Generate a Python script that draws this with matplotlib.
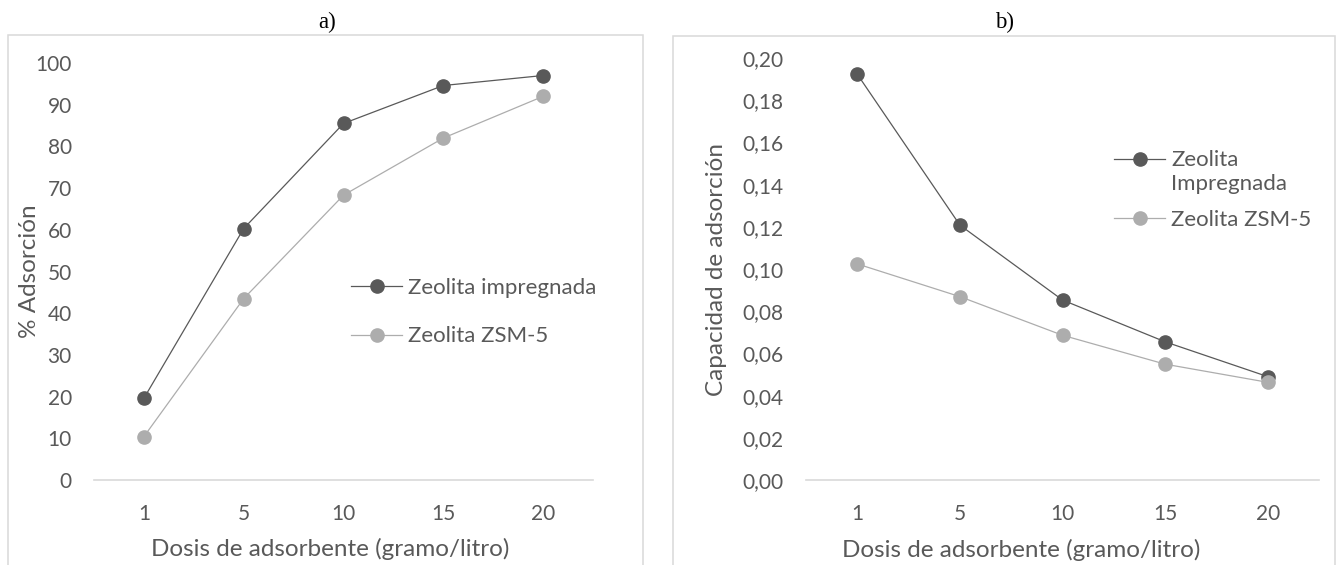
import matplotlib
matplotlib.use("Agg")
import numpy as np
import matplotlib.pyplot as plt
from matplotlib.patches import Rectangle
from matplotlib.legend_handler import HandlerLine2D

plt.rcParams['font.family'] = ['Lato', 'DejaVu Sans']

dosis = ["1", "5", "10", "15", "20"]

# a) % adsorcion
ads_impregnada = [19.6, 60.3, 85.5, 94.6, 97.0]
ads_zsm5 = [10.4, 43.5, 68.3, 82.0, 92.0]
yticks_a = [0, 10, 20, 30, 40, 50, 60, 70, 80, 90, 100]

# b) capacidad de adsorcion
cap_impregnada = [0.1923, 0.1208, 0.0853, 0.0655, 0.0490]
cap_zsm5 = [0.1024, 0.0869, 0.0686, 0.0549, 0.0463]
yticks_b = [0.00, 0.02, 0.04, 0.06, 0.08, 0.10, 0.12, 0.14, 0.16, 0.18, 0.20]
yticklabels_b = ["0,00", "0,02", "0,04", "0,06", "0,08", "0,10",
                 "0,12", "0,14", "0,16", "0,18", "0,20"]

dark = "#595959"
light = "#adadad"
txt = "#595959"
grid = "#d9d9d9"
fs_tick = 15
fs_leg = 16
fs_lab = 17.5


class ShiftedHandler(HandlerLine2D):
    # handle aligned with the first line of a two-line label
    def __init__(self, dy, **kw):
        super().__init__(**kw)
        self.dy = dy

    def create_artists(self, legend, orig_handle, xdescent, ydescent, width,
                       height, fontsize, trans):
        arts = super().create_artists(legend, orig_handle, xdescent, ydescent,
                                      width, height, fontsize, trans)
        for a in arts:
            a.set_ydata(np.asarray(a.get_ydata()) + self.dy)
        return arts


W, H = 1337, 565
fig = plt.figure(figsize=(W / 100, H / 100), dpi=100)

# panel borders
fig.add_artist(Rectangle((8 / W, -0.05), 635 / W, 1.05 - 35 / H, transform=fig.transFigure,
                         fill=False, edgecolor=grid, lw=1.1))
fig.add_artist(Rectangle((673 / W, -0.05), 662 / W, 1.05 - 36 / H, transform=fig.transFigure,
                         fill=False, edgecolor=grid, lw=1.1))

fig.text(327 / W, 1 - 22 / H, "a)", ha="center", va="center",
         family="Liberation Serif", fontsize=16.5, color="black")
fig.text(1005 / W, 1 - 22 / H, "b)", ha="center", va="center",
         family="Liberation Serif", fontsize=16.5, color="black")

ax1 = fig.add_axes([94 / W, 85 / H, 499 / W, 417 / H])
ax2 = fig.add_axes([806 / W, 85 / H, 513 / W, 422 / H])


def style(ax):
    for s in ["top", "right", "left"]:
        ax.spines[s].set_visible(False)
    ax.spines["bottom"].set_color(grid)
    ax.spines["bottom"].set_linewidth(1.2)
    ax.tick_params(length=0, labelsize=fs_tick, labelcolor=txt)
    ax.tick_params(axis="x", pad=17)
    ax.tick_params(axis="y", pad=16)
    ax.set_xlim(-0.5, 4.5)


x = range(len(dosis))

ax1.plot(x, ads_impregnada, "-o", color=dark, lw=0.9, ms=9.5, label="Zeolita impregnada", clip_on=False)
ax1.plot(x, ads_zsm5, "-o", color=light, lw=0.9, ms=9.5, label="Zeolita ZSM-5", clip_on=False)
style(ax1)
ax1.set_ylim(0, 100)
ax1.set_yticks(yticks_a)
ax1.set_xticks(list(x))
ax1.set_xticklabels(dosis)
ax1.set_ylabel("% Adsorción", fontsize=fs_lab, color=txt)
ax1.yaxis.set_label_coords(-0.108, 0.5)
ax1.set_xlabel("Dosis de adsorbente (gramo/litro)", fontsize=fs_lab, color=txt)
ax1.xaxis.set_label_coords(0.473, -0.139)
ax1.legend(loc="center left", bbox_to_anchor=(340 / W, 1 - 312 / H),
           bbox_transform=fig.transFigure, frameon=False, fontsize=fs_leg,
           labelcolor=txt, borderpad=0, handlelength=2.3, handletextpad=0.27,
           labelspacing=1.3)

l1, = ax2.plot(x, cap_impregnada, "-o", color=dark, lw=0.9, ms=9.5, label="Zeolita\nImpregnada", clip_on=False)
ax2.plot(x, cap_zsm5, "-o", color=light, lw=0.9, ms=9.5, label="Zeolita ZSM-5", clip_on=False)
style(ax2)
ax2.set_ylim(0, 0.20)
ax2.set_yticks(yticks_b)
ax2.set_yticklabels(yticklabels_b)
ax2.set_xticks(list(x))
ax2.set_xticklabels(dosis)
ax2.set_ylabel("Capacidad de adsorción", fontsize=fs_lab, color=txt)
ax2.yaxis.set_label_coords(-0.154, 0.5)
ax2.set_xlabel("Dosis de adsorbente (gramo/litro)", fontsize=fs_lab, color=txt)
ax2.xaxis.set_label_coords(0.419, -0.14)
leg2 = ax2.legend(loc="center left", bbox_to_anchor=(1103 / W, 1 - 190 / H),
                  bbox_transform=fig.transFigure, frameon=False, fontsize=fs_leg,
                  labelcolor=txt, borderpad=0, handlelength=2.3, handletextpad=0.27,
                  labelspacing=0.7, handler_map={l1: ShiftedHandler(10)})
for t in leg2.get_texts():
    t.set_linespacing(1.25)

fig.savefig("out.png", dpi=100)
